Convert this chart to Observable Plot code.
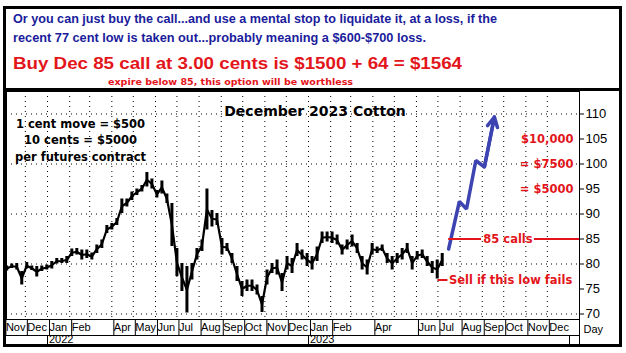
<!DOCTYPE html>
<html><head><meta charset="utf-8">
<script src="https://cdn.jsdelivr.net/npm/d3@7"></script>
<script src="https://cdn.jsdelivr.net/npm/@observablehq/plot@0.6"></script>
<style>
html,body{margin:0;padding:0;background:#fff;}
#page{position:relative;width:626px;height:353px;overflow:hidden;background:#fff;}
.hl{position:absolute;white-space:nowrap;font-weight:bold;transform-origin:0 0;line-height:1;}
#border{position:absolute;left:3px;top:6px;width:619px;height:341px;border:3px solid #000;box-sizing:border-box;pointer-events:none;z-index:5;}
#sep{position:absolute;left:3px;top:88px;width:619px;height:3px;background:#000;z-index:5;}
#chart{position:absolute;left:0;top:88px;width:626px;height:265px;}
</style></head><body>
<div id="page">
  <div class="hl" style="left:13px;top:11.3px;font:bold 13.5px 'Liberation Sans',Arial,sans-serif;color:#1a1c9c" data-w="484">Or you can just buy the call...and use a mental stop to liquidate it, at a loss, if the</div>
  <div class="hl" style="left:13px;top:30.3px;font:bold 13.5px 'Liberation Sans',Arial,sans-serif;color:#1a1c9c" data-w="413">recent 77 cent low is taken out...probably meaning a $600-$700 loss.</div>
  <div class="hl" style="left:13px;top:53.9px;font:bold 17px 'Liberation Sans',Arial,sans-serif;color:#e3151b" data-w="449">Buy Dec 85 call at 3.00 cents is $1500 + 64 = $1564</div>
  <div class="hl" style="left:108px;top:76px;font:bold 9.5px 'DejaVu Sans',Verdana,sans-serif;color:#e3151b" data-w="245">expire below 85, this option will be worthless</div>
  <div id="chart"></div>
  <div id="sep"></div>
  <div id="border"></div>
</div>
<script>
// ---- data ----
const weekDates = ["2021-11-05","2021-11-12","2021-11-19","2021-11-26","2021-12-03","2021-12-10","2021-12-17","2021-12-24","2021-12-31",
"2022-01-07","2022-01-14","2022-01-21","2022-01-28","2022-02-04","2022-02-11","2022-02-18","2022-02-25","2022-03-04","2022-03-11","2022-03-18","2022-03-25",
"2022-04-01","2022-04-08","2022-04-15","2022-04-22","2022-04-29","2022-05-06","2022-05-13","2022-05-20","2022-05-27","2022-06-03","2022-06-10","2022-06-17","2022-06-24",
"2022-07-01","2022-07-08","2022-07-15","2022-07-22","2022-07-29","2022-08-05","2022-08-12","2022-08-19","2022-08-26","2022-09-02","2022-09-09","2022-09-16","2022-09-23","2022-09-30",
"2022-10-07","2022-10-14","2022-10-21","2022-10-28","2022-11-04","2022-11-11","2022-11-18","2022-11-25","2022-12-02","2022-12-09","2022-12-16","2022-12-23","2022-12-30",
"2023-01-06","2023-01-13","2023-01-20","2023-01-27","2023-02-03","2023-02-10","2023-02-17","2023-02-24","2023-03-03","2023-03-10","2023-03-17","2023-03-24","2023-03-31",
"2023-04-07","2023-04-14","2023-04-21","2023-04-28","2023-05-05","2023-05-12","2023-05-19","2023-05-26","2023-06-02","2023-06-09","2023-06-16","2023-06-23","2023-06-30","2023-07-07"];
const weekLow = [78.6,79.1,78.8,75.8,79.0,78.7,77.4,78.5,78.8,79.0,
80.0,80.1,80.1,81.5,81.8,80.8,81.1,80.8,82.1,83.1,
86.1,86.8,87.7,90.1,91.4,92.7,93.7,94.4,95.4,95.0,
93.2,94.0,92.1,83.5,77.5,74.5,70.2,76.8,80.8,82.5,
86.8,87.4,87.7,81.8,82.5,80.1,76.5,73.5,74.5,74.5,
73.8,70.3,75.8,78.1,77.8,74.5,78.8,78.1,81.5,80.8,
79.5,78.8,80.5,84.1,84.4,84.1,83.8,81.8,82.8,83.4,
82.1,78.8,77.8,81.8,82.1,82.5,80.1,78.8,80.1,80.8,
82.1,78.8,80.8,81.1,79.5,78.1,77.0,79.5];
const weekHigh = [79.6,80.0,80.1,78.5,80.3,79.6,79.5,79.6,79.8,80.5,
81.1,81.1,81.5,83.0,83.1,82.8,82.8,82.2,83.8,84.8,
87.7,88.1,89.1,93.0,93.0,94.4,95.0,95.7,98.3,97.0,
94.7,96.6,94.0,92.1,83.1,80.1,79.5,80.1,83.1,84.8,
95.0,90.7,90.1,85.1,84.1,82.1,79.5,76.5,76.8,76.8,
75.8,73.5,78.8,80.1,80.8,78.1,81.5,81.1,84.1,82.8,
82.1,81.5,83.4,86.4,86.4,86.4,85.8,83.8,84.8,85.8,
84.1,81.5,80.8,84.1,83.4,83.8,82.1,81.5,82.1,83.1,
84.1,81.5,82.5,82.8,81.5,80.5,80.8,82.1];

const arrowDates = ["2023-07-16","2023-07-31","2023-08-10","2023-08-23","2023-09-04","2023-09-18"];
const arrowValues = [83.0, 92.5, 91.0, 100.7, 99.4, 109.4];

const callStrike = [85];
const callLineStarts = ["2023-07-16","2023-11-13"];
const callLineEnds = ["2023-08-31","2024-01-15"];
const callLabel = ["85 calls"];
const callLabelDate = ["2023-10-07"];
const stopLevel = [76.8];
const stopLineSpan = ["2023-07-01","2023-07-15"];
const stopLabel = ["Sell if this low fails"];
const profitLevels = [105, 100, 95];
const profitLabels = ["$10,000", "= $7500", "= $5000"];

const chartTitle = ["December 2023 Cotton"];
const contractNote = ["1 cent move = $500\n10 cents = $5000\nper futures contract"];

const monthTickDates = ["2021-11-01","2021-12-01","2022-01-01","2022-02-01","2022-04-01","2022-05-01","2022-06-01","2022-07-01","2022-08-01","2022-09-01","2022-10-01","2022-11-01","2022-12-01","2023-01-01","2023-02-01","2023-04-01","2023-06-01","2023-07-01","2023-08-01","2023-09-01","2023-10-01","2023-11-01","2023-12-01"];
const gridMonthDates = ["2021-12-01","2022-01-01","2022-02-01","2022-03-01","2022-04-01","2022-05-01","2022-06-01","2022-07-01","2022-08-01","2022-09-01","2022-10-01","2022-11-01","2022-12-01","2023-01-01","2023-02-01","2023-03-01","2023-04-01","2023-05-01","2023-06-01","2023-07-01","2023-08-01","2023-09-01","2023-10-01","2023-11-01","2023-12-01"];
const yearTickDates = ["2022-01-01","2023-01-01","2024-01-01"];
const yearLabels = ["2022","2023",""];
const yTicks = [70,75,80,85,90,95,100,105,110];
const yGrid = [70,80,90,100,110];

// ---- build ----
const parse = s => new Date(s + "T00:00:00Z");
const price = weekDates.map((d, i) => ({date: parse(d), low: weekLow[i], high: weekHigh[i]}));
const arrowPts = arrowDates.map((d, i) => ({date: parse(d), v: arrowValues[i]}));
const callSegs = callLineStarts.map((d, i) => ({from: parse(d), to: parse(callLineEnds[i]), level: callStrike[0]}));
const n = arrowPts.length;
const RED = "#e3151b", BLUE = "#3d44b2";
const bold = "'DejaVu Sans', Verdana, sans-serif";

const chart = Plot.plot({
  width: 626, height: 265,
  marginTop: 3, marginBottom: 34, marginLeft: 6, marginRight: 47,
  x: {type: "utc", domain: [new Date("2021-11-04T16:00:00Z"), new Date("2024-01-15T00:00:00Z")]},
  y: {domain: [68.9, 114.5]},
  style: {fontFamily: "'Liberation Sans', Arial, sans-serif", fontSize: "11px", background: "#fff", color: "#000"},
  marks: [
    Plot.gridX(gridMonthDates.map(parse), {stroke: "#000", strokeOpacity: 1, strokeDasharray: "1,4"}),
    Plot.gridY(yGrid, {stroke: "#000", strokeOpacity: 1, strokeDasharray: "1,4"}),
    Plot.frame({stroke: "#000"}),
    Plot.axisY(yTicks, {anchor: "right", tickSize: 4, tickPadding: 2, fontSize: 13, label: null, tickFormat: d => String(d)}),
    Plot.axisX(monthTickDates.map(parse), {anchor: "bottom", tickSize: 16, tickPadding: -12, textAnchor: "start", dx: 2, fontSize: 11, label: null, tickFormat: d3.utcFormat("%b")}),
    Plot.ruleX(price, {x: "date", y1: "low", y2: "high", stroke: "#000", strokeWidth: 3}),
    Plot.line(price, {x: "date", y: d => (d.low + d.high) / 2, stroke: "#000", strokeWidth: 2.2}),
    Plot.line(arrowPts, {x: "date", y: "v", stroke: BLUE, strokeWidth: 3.5, strokeLinejoin: "miter"}),
    Plot.arrow([0], {x1: () => arrowPts[n-2].date, y1: () => arrowPts[n-2].v, x2: () => arrowPts[n-1].date, y2: () => arrowPts[n-1].v, stroke: BLUE, strokeWidth: 3.5, headLength: 4.7, headAngle: 55}),
    Plot.ruleY(callSegs, {y: "level", x1: "from", x2: "to", stroke: RED, strokeWidth: 2}),
    Plot.text(callLabel, {text: d => d, x: () => parse(callLabelDate[0]), y: () => callStrike[0], fill: RED, fontSize: 11.5, fontWeight: "bold", fontFamily: bold}),
    Plot.ruleY(stopLevel, {y: d => d, x1: () => parse(stopLineSpan[0]), x2: () => parse(stopLineSpan[1]), stroke: RED, strokeWidth: 2}),
    Plot.text(stopLabel, {text: d => d, x: () => parse(stopLineSpan[1]), y: () => stopLevel[0], textAnchor: "start", dx: 1, fill: RED, fontSize: 11.5, fontWeight: "bold", fontFamily: bold}),
    Plot.text(profitLevels, {y: d => d, text: (d, i) => profitLabels[i], frameAnchor: "right", textAnchor: "end", dx: -6, fill: RED, fontSize: 11.5, fontWeight: "bold", fontFamily: bold}),
    Plot.text(chartTitle, {text: d => d, frameAnchor: "top", dx: 22, dy: 15, fontSize: 14, fontWeight: "bold", fontFamily: bold}),
    Plot.text(contractNote, {text: d => d, frameAnchor: "top-left", textAnchor: "middle", lineAnchor: "middle", dx: 74, dy: 47.5, lineHeight: 1.43, fontSize: 11.5, fontWeight: "bold", fontFamily: bold}),
    Plot.text(["Day"], {text: d => d, frameAnchor: "bottom-right", textAnchor: "start", dx: 4, dy: 13, fontSize: 11})
  ]
});
document.getElementById("chart").appendChild(chart);

// year row under the month labels, placed with Plot's own x scale
const xs = chart.scale("x");
const fx = xs.apply ? (d => xs.apply(d)) : d3.scaleUtc(xs.domain, xs.range);
const yBottom = 265 - 34, yRow = 247, yEnd = 257;
const g = d3.select(chart).append("g").attr("stroke", "#000").attr("stroke-width", 1);
g.append("line").attr("x1", 6).attr("x2", 579).attr("y1", yRow + 0.5).attr("y2", yRow + 0.5);
g.append("line").attr("x1", 579.5).attr("x2", 579.5).attr("y1", yBottom).attr("y2", yEnd);
yearTickDates.forEach((d, i) => {
  const px = Math.round(fx(parse(d))) + 0.5;
  g.append("line").attr("x1", px).attr("x2", px).attr("y1", yRow).attr("y2", yEnd);
  if (yearLabels[i]) d3.select(chart).append("text").attr("x", px + 1.5).attr("y", yRow + 7.5)
    .attr("text-anchor", "start").attr("fill", "#000").attr("font-size", 11)
    .attr("font-family", "'Liberation Sans', Arial, sans-serif").text(yearLabels[i]);
});

// fit header lines to the measured widths
document.querySelectorAll(".hl").forEach(el => {
  const w = el.getBoundingClientRect().width;
  el.style.transform = `scaleX(${(+el.dataset.w) / w})`;
});
</script>
</body></html>
